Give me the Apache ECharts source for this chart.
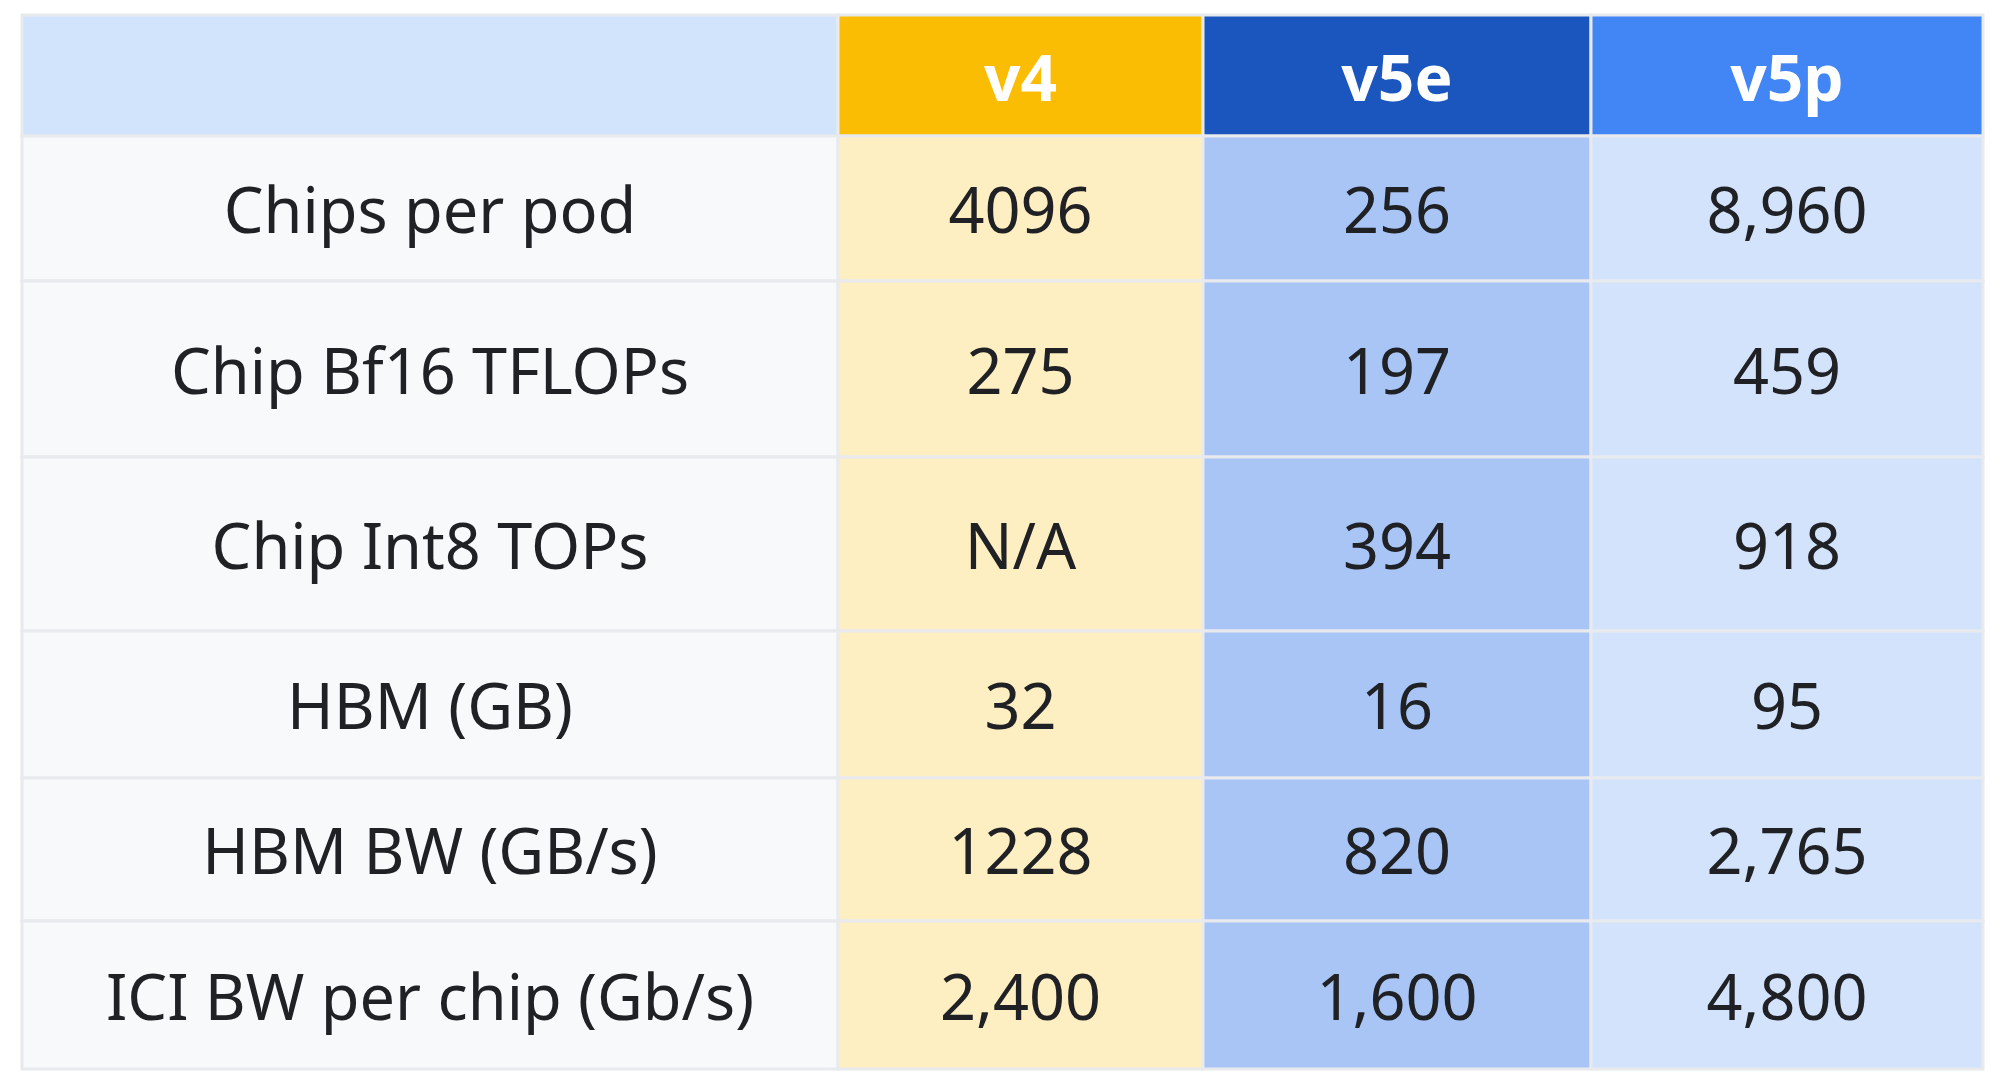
<!DOCTYPE html>
<html>
<head>
<meta charset="utf-8">
<script src="https://cdn.jsdelivr.net/npm/echarts@6/dist/echarts.min.js"></script>
<style>html,body{margin:0;padding:0;background:#fff}#main{width:2000px;height:1082px}</style>
</head>
<body>
<div id="main"></div>
<script>
// table content
var chips = ['v4', 'v5e', 'v5p'];
var metrics = ['Chips per pod', 'Chip Bf16 TFLOPs', 'Chip Int8 TOPs', 'HBM (GB)', 'HBM BW (GB/s)', 'ICI BW per chip (Gb/s)'];
var v4 = ['4096', '275', 'N/A', '32', '1228', '2,400'];
var v5e = ['256', '197', '394', '16', '820', '1,600'];
var v5p = ['8,960', '459', '918', '95', '2,765', '4,800'];

// layout (axis units = px inside grid)
var colEdges = [0, 816, 1181, 1569, 1961];
var rowEdges = [0, 121, 266, 442, 616, 763, 906, 1054];
var headColors = ['#d2e3fc', '#fbbc04', '#1a56bd', '#4285f4'];
var bodyColors = ['#f8f9fa', '#feefc3', '#a8c5f6', '#d3e3fc'];

var cells = [];
cells.push([0, 0, '']);
chips.forEach(function(c, i) { cells.push([i + 1, 0, c]); });
metrics.forEach(function(m, r) {
    cells.push([0, r + 1, m]);
    cells.push([1, r + 1, v4[r]]);
    cells.push([2, r + 1, v5e[r]]);
    cells.push([3, r + 1, v5p[r]]);
});

var chart = echarts.init(document.getElementById('main'));
chart.setOption({
    animation: false,
    grid: { left: 22, top: 15, width: 1961, height: 1054 },
    xAxis: { type: 'value', min: 0, max: 1961, show: false },
    yAxis: { type: 'value', min: 0, max: 1054, inverse: true, show: false },
    series: [{
        type: 'custom',
        data: cells,
        renderItem: function(params, api) {
            var c = api.value(0), r = api.value(1);
            var p0 = api.coord([colEdges[c], rowEdges[r]]);
            var p1 = api.coord([colEdges[c + 1], rowEdges[r + 1]]);
            var head = r === 0;
            return {
                type: 'group',
                children: [{
                    type: 'rect',
                    shape: { x: p0[0], y: p0[1], width: p1[0] - p0[0], height: p1[1] - p0[1] },
                    style: { fill: head ? headColors[c] : bodyColors[c], stroke: '#e8eaed', lineWidth: 3 }
                }, {
                    type: 'text',
                    style: {
                        text: cells[params.dataIndex][2],
                        x: (p0[0] + p1[0]) / 2,
                        y: (p0[1] + p1[1]) / 2 + 7,
                        align: 'center',
                        verticalAlign: 'middle',
                        fontFamily: 'Noto Sans',
                        fontSize: head ? 64 : 63,
                        fontWeight: head ? 'bold' : 'normal',
                        fill: head ? '#ffffff' : '#202124'
                    }
                }]
            };
        }
    }]
});
</script>
</body>
</html>
